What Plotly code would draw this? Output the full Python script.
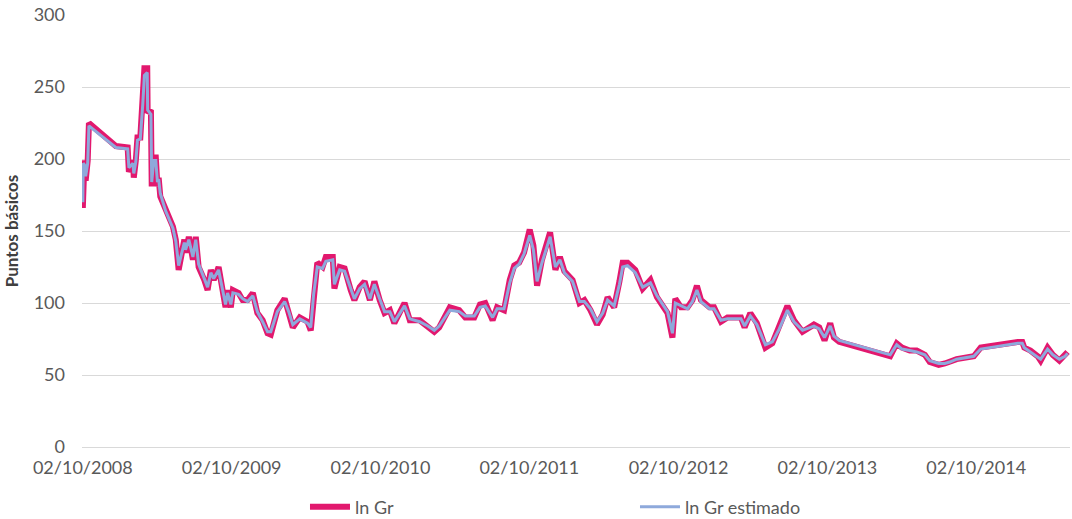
import plotly.graph_objects as go

# Spread (puntos básicos), lectura aproximada del gráfico
fechas = [
    "2008-10-02", "2008-10-03", "2008-10-06", "2008-10-09", "2008-10-14", "2008-10-17",
    "2008-12-22", "2009-01-20", "2009-01-23", "2009-02-02", "2009-02-04", "2009-02-09",
    "2009-02-13", "2009-02-20", "2009-02-26", "2009-03-02", "2009-03-09", "2009-03-10",
    "2009-03-18", "2009-03-20", "2009-03-25", "2009-03-30", "2009-04-03", "2009-04-06",
    "2009-04-10", "2009-04-23", "2009-05-11", "2009-05-18", "2009-05-25", "2009-06-08",
    "2009-06-11", "2009-06-19", "2009-06-29", "2009-07-06", "2009-07-13", "2009-07-27",
    "2009-08-04", "2009-08-12", "2009-08-19", "2009-08-31", "2009-09-10", "2009-09-17",
    "2009-09-22", "2009-09-30", "2009-10-05", "2009-10-19", "2009-10-29", "2009-11-10",
    "2009-11-23", "2009-12-04", "2009-12-17", "2009-12-29", "2010-01-06", "2010-01-22",
    "2010-02-09", "2010-02-19", "2010-03-01", "2010-03-18", "2010-04-06", "2010-04-14",
    "2010-04-21", "2010-04-30", "2010-05-13", "2010-05-21", "2010-06-07", "2010-06-11",
    "2010-06-24", "2010-07-06", "2010-07-21", "2010-07-30", "2010-08-12", "2010-08-24",
    "2010-09-06", "2010-09-17", "2010-09-30", "2010-10-12", "2010-10-25", "2010-11-05",
    "2010-11-30", "2010-12-13", "2011-01-06", "2011-01-26", "2011-02-11", "2011-02-23",
    "2011-03-21", "2011-04-13", "2011-04-28", "2011-05-20", "2011-06-03", "2011-06-16",
    "2011-07-04", "2011-07-15", "2011-08-01", "2011-08-15", "2011-08-26", "2011-09-07",
    "2011-09-19", "2011-10-03", "2011-10-12", "2011-10-21", "2011-11-02", "2011-11-22",
    "2011-12-05", "2011-12-16", "2011-12-27", "2012-01-16", "2012-02-02", "2012-02-14",
    "2012-02-29", "2012-03-16", "2012-03-30", "2012-04-11", "2012-04-27", "2012-05-10",
    "2012-05-18", "2012-05-30", "2012-06-18", "2012-07-06", "2012-07-25", "2012-08-10",
    "2012-09-05", "2012-09-17", "2012-09-24", "2012-10-08", "2012-10-24", "2012-11-05",
    "2012-11-16", "2012-11-26", "2012-12-17", "2012-12-28", "2013-01-14", "2013-01-30",
    "2013-03-04", "2013-03-13", "2013-03-27", "2013-04-12", "2013-05-03", "2013-05-20",
    "2013-06-06", "2013-06-26", "2013-07-12", "2013-08-02", "2013-08-30", "2013-09-12",
    "2013-09-25", "2013-10-09", "2013-10-18", "2013-10-31", "2014-03-05", "2014-03-21",
    "2014-04-03", "2014-04-22", "2014-05-09", "2014-05-29", "2014-06-10", "2014-07-02",
    "2014-07-17", "2014-07-29", "2014-08-15", "2014-09-26", "2014-10-13", "2015-01-12",
    "2015-01-23", "2015-01-28", "2015-02-12", "2015-03-02", "2015-03-09", "2015-03-26",
    "2015-04-08", "2015-04-24", "2015-05-08", "2015-05-14",
]

ln_gr = [
    166, 199, 199, 185, 199, 225,
    209, 208, 191, 199, 187, 199,
    215, 215, 241, 263, 263, 232,
    234, 181, 201, 201, 181, 187,
    174, 165, 153, 144, 123, 144,
    135, 146, 130, 146, 125, 116,
    109, 123, 116, 125, 109, 97,
    109, 97, 109, 107, 102, 102,
    107, 93, 88, 79, 78, 95,
    103, 93, 83, 90, 87, 81,
    104, 128, 125, 132, 132, 110,
    125, 124, 109, 102, 111, 115,
    102, 115, 102, 93, 95, 86,
    100, 88, 88, 83, 80, 83,
    97, 95, 90, 90, 99, 100,
    88, 97, 95, 116, 126, 128,
    135, 151, 140, 112, 130, 149,
    123, 132, 122, 116, 100, 102,
    95, 85, 92, 104, 97, 115,
    128, 128, 123, 110, 116, 104,
    93, 76, 103, 97, 97, 102,
    112, 102, 97, 97, 87, 90,
    90, 83, 93, 86, 69, 72,
    83, 98, 88, 80, 85, 83,
    74, 86, 76, 73, 63, 72,
    69, 67, 67, 64, 59, 57,
    58, 59, 61, 63, 69, 73,
    73, 69, 67, 63, 60, 69,
    64, 60, 64, 66,
]

ln_gr_estimado = [
    170, 197, 196, 188, 197, 223,
    208, 207, 194, 197, 190, 198,
    213, 214, 238, 258, 260, 234,
    231, 184, 199, 199, 184, 186,
    176, 164, 152, 143, 126, 142,
    137, 144, 132, 144, 127, 117,
    111, 121, 117, 123, 110, 99,
    107, 99, 107, 106, 103, 101,
    105, 94, 87, 80, 80, 94,
    101, 94, 85, 89, 86, 83,
    106, 125, 124, 129, 130, 113,
    123, 122, 110, 103, 110, 113,
    103, 113, 103, 94, 94, 87,
    98, 89, 87, 84, 81, 84,
    95, 94, 91, 91, 97, 98,
    90, 96, 96, 114, 124, 127,
    134, 147, 137, 115, 128, 146,
    125, 130, 121, 115, 101, 101,
    96, 87, 93, 102, 98, 113,
    125, 126, 121, 111, 114, 105,
    94, 79, 100, 98, 96, 101,
    109, 101, 96, 96, 88, 89,
    89, 84, 91, 85, 71, 73,
    82, 95, 87, 81, 84, 82,
    76, 84, 77, 74, 64, 71,
    68, 67, 66, 64, 60, 58,
    58, 59, 61, 63, 68, 72,
    72, 69, 66, 63, 61, 68,
    64, 61, 63, 65,
]

ticks_x = ["2008-10-02", "2009-10-02", "2010-10-02", "2011-10-02",
           "2012-10-02", "2013-10-02", "2014-10-02"]
etiquetas_x = ["02/10/2008", "02/10/2009", "02/10/2010", "02/10/2011",
               "02/10/2012", "02/10/2013", "02/10/2014"]

FONT = "Lato, 'Open Sans', sans-serif"
INK = "#595959"

fig = go.Figure()
fig.add_trace(go.Scatter(
    x=fechas, y=ln_gr, name="ln Gr", mode="lines",
    line=dict(color="#E2186E", width=6),
))
fig.add_trace(go.Scatter(
    x=fechas, y=ln_gr_estimado, name="ln Gr estimado", mode="lines",
    line=dict(color="#8EA9DB", width=3),
))

fig.update_layout(
    width=1072, height=519,
    paper_bgcolor="white", plot_bgcolor="white",
    margin=dict(l=82, r=2, t=15, b=72, autoexpand=False),
    font=dict(family=FONT, color=INK, size=18),
    legend=dict(
        orientation="h", x=0.2257, xanchor="left", y=-0.139, yanchor="middle",
        entrywidth=275, entrywidthmode="pixels",
        font=dict(size=18, color=INK), itemwidth=40,
    ),
    xaxis=dict(
        type="date", range=["2008-09-30", "2015-05-20"],
        tickvals=ticks_x, ticktext=etiquetas_x,
        showgrid=False, zeroline=False, showline=False, ticks="",
        ticklabelstandoff=8,
        tickfont=dict(size=18, color=INK),
    ),
    yaxis=dict(
        range=[0, 300], tickvals=[0, 50, 100, 150, 200, 250, 300],
        showgrid=True, gridcolor="#D9D9D9", gridwidth=1,
        zeroline=True, zerolinecolor="#D9D9D9", zerolinewidth=1,
        showline=False, ticks="", ticklabelstandoff=16,
        tickfont=dict(size=18, color=INK),
        title=dict(text="<b>Puntos básicos</b>", font=dict(size=17, color="#404040"),
                   standoff=10),
    ),
)

# sin el margen por defecto del <body>, la figura ocupa la ventana entera
fig.write_html("out.html", config={"displayModeBar": False},
               post_script="document.body.style.margin = '0';")
